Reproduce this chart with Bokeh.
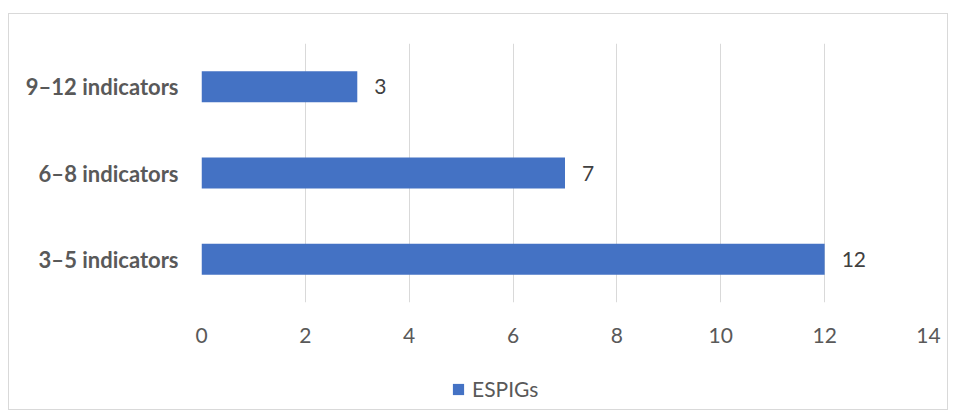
from bokeh.plotting import figure
from bokeh.layouts import column
from bokeh.models import FactorRange, Range1d, FixedTicker, Legend, LegendItem, ColumnDataSource
from bokeh.embed import file_html
from bokeh.resources import INLINE

categories = ["3–5 indicators", "6–8 indicators", "9–12 indicators"]
values = [12, 7, 3]
series_name = "ESPIGs"
x_ticks = [0, 2, 4, 6, 8, 10, 12, 14]

FONT = "Lato"
BLUE = "#4472C4"

src = ColumnDataSource(dict(cat=categories, val=values, lbl=[str(v) for v in values]))

p = figure(
    width=938, height=346,
    y_range=FactorRange(*categories, range_padding=0),
    x_range=Range1d(0, 14),
    output_backend="svg", toolbar_location=None,
    min_border_left=192, min_border_right=19, min_border_top=29, min_border_bottom=58,
)
p.outline_line_color = None
p.background_fill_color = "white"
p.border_fill_color = "white"

r = p.hbar(y="cat", right="val", left=0, height=0.36, color=BLUE, line_color=None, source=src)

p.text(x="val", y="cat", text="lbl", source=src, x_offset=17,
       text_align="left", text_baseline="middle", text_font_size="21px",
       text_color="#404040", text_font={"value": FONT})

p.xaxis.ticker = FixedTicker(ticks=x_ticks)
p.xaxis.axis_line_color = None
p.xaxis.major_tick_line_color = None
p.xaxis.minor_tick_line_color = None
p.xaxis.major_label_standoff = 19
p.xaxis.major_label_text_font_size = "21px"
p.xaxis.major_label_text_color = "#595959"
p.xaxis.major_label_text_font = FONT

p.yaxis.axis_line_color = None
p.yaxis.major_tick_line_color = None
p.yaxis.major_label_standoff = 17
p.yaxis.major_label_text_font_size = "22px"
p.yaxis.major_label_text_font_style = "bold"
p.yaxis.major_label_text_color = "#595959"
p.yaxis.major_label_text_font = FONT

p.xgrid.grid_line_color = "#d9d9d9"
p.xgrid.grid_line_width = 1
p.ygrid.grid_line_color = None

# legend strip below the chart (its proxy bars map outside its view; only the legend shows)
lf = figure(width=938, height=49, output_backend="svg", toolbar_location=None,
            y_range=FactorRange(series_name), x_range=Range1d(-1000, -999),
            min_border=0, min_border_left=0, min_border_right=0,
            min_border_top=0, min_border_bottom=0)
lf.axis.visible = False
lf.grid.visible = False
lf.outline_line_color = None
lf.border_fill_color = "white"
lf.background_fill_color = "white"
lr = lf.hbar(y="cat", right="val", left=0, height=0.36, color=BLUE, line_color=None, source=src)

legend = Legend(items=[LegendItem(label=series_name, renderers=[lr])],
                location=(250, 8), orientation="horizontal",
                glyph_width=14, glyph_height=14, label_standoff=7,
                label_text_font_size="21px", label_text_color="#595959",
                label_text_font=FONT, padding=0, margin=0,
                border_line_color=None, background_fill_alpha=0)
lf.add_layout(legend, "center")

layout = column(p, lf, spacing=0, width=940, height=397, margin=(13, 0, 0, 8))
layout.styles = {"border": "1px solid #d9d9d9", "box-sizing": "border-box"}

open("out.html", "w").write(file_html(layout, INLINE))
